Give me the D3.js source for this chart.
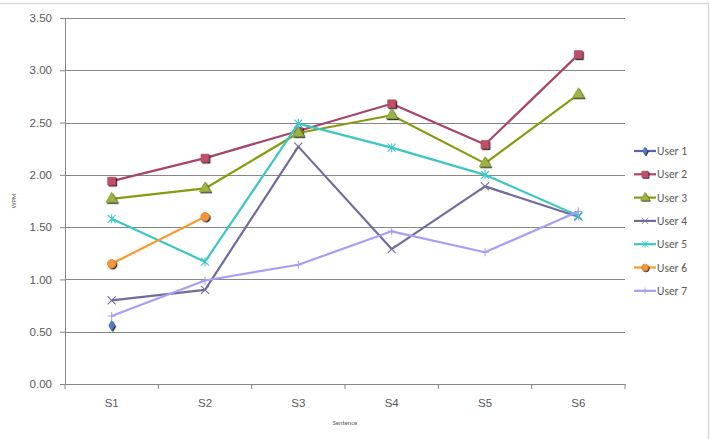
<!DOCTYPE html>
<html>
<head>
<meta charset="utf-8">
<script src="https://cdn.jsdelivr.net/npm/d3@7"></script>
<style>
  body { margin: 0; background: #fff; }
  svg { font-family: Calibri, Carlito, "Open Sans", "Noto Sans", sans-serif; }
</style>
</head>
<body>
<script>
// chart data
var sentences = ["S1", "S2", "S3", "S4", "S5", "S6"];
var users = ["User 1", "User 2", "User 3", "User 4", "User 5", "User 6", "User 7"];
var user1 = [0.56, null, null, null, null, null];
var user2 = [1.94, 2.16, 2.42, 2.68, 2.29, 3.15];
var user3 = [1.77, 1.87, 2.40, 2.57, 2.11, 2.77];
var user4 = [0.80, 0.90, 2.27, 1.29, 1.89, 1.60];
var user5 = [1.58, 1.17, 2.49, 2.26, 2.00, 1.61];
var user6 = [1.15, 1.60, null, null, null, null];
var user7 = [0.65, 0.99, 1.14, 1.46, 1.26, 1.65];
var yTicks = [0, 0.5, 1, 1.5, 2, 2.5, 3, 3.5];

var seriesValues = [user1, user2, user3, user4, user5, user6, user7];
var lineColors = ["#5d62a8", "#a8446c", "#8a9a10", "#726c9c", "#3cc6c8", "#f79a30", "#a79ff6"];
var markerFills = ["#4f7fc4", "#c2506a", "#9bb540", "#7a7499", "#40c8ca", "#f7953a", "#a79ff6"];
var markerShapes = ["diamond", "square", "triangle", "x", "star", "circle", "plus"];

var width = 710, height = 439;
var margin = {left: 65, top: 18, right: 85, bottom: 55};
var plotW = width - margin.left - margin.right;
var plotH = height - margin.top - margin.bottom;

var svg = d3.select("body").append("svg")
    .attr("width", width)
    .attr("height", height);

// outer frame of the chart
svg.append("rect")
    .attr("x", -5).attr("y", 3.5)
    .attr("width", 713.5).attr("height", 450)
    .attr("fill", "none")
    .attr("stroke", "#d9d9d9")
    .attr("stroke-width", 1.5);

var defs = svg.append("defs");
defs.append("filter").attr("id", "shadow")
    .attr("x", "-50%").attr("y", "-50%").attr("width", "200%").attr("height", "200%")
    .append("feDropShadow")
    .attr("dx", 1.2).attr("dy", 1.2).attr("stdDeviation", 0.6)
    .attr("flood-color", "#000").attr("flood-opacity", 0.85);

var g = svg.append("g").attr("transform", "translate(" + margin.left + "," + margin.top + ")");

var x = d3.scaleBand().domain(sentences).range([0, plotW]);
var y = d3.scaleLinear().domain([0, 3.5]).range([plotH, 0]);

// gridlines
g.append("g")
    .selectAll("line")
    .data(yTicks.slice(1))
    .enter().append("line")
    .attr("x1", 0).attr("x2", plotW)
    .attr("y1", function (d) { return Math.round(y(d)) + 0.5; })
    .attr("y2", function (d) { return Math.round(y(d)) + 0.5; })
    .attr("stroke", "#878787")
    .attr("stroke-width", 1);

// y axis
var yAxis = g.append("g")
    .call(d3.axisLeft(y).tickValues(yTicks).tickFormat(d3.format(".2f")).tickSize(5).tickSizeOuter(0));
yAxis.select(".domain").attr("stroke", "#878787");
yAxis.selectAll(".tick line").attr("stroke", "#878787");
yAxis.selectAll(".tick text")
    .attr("x", -13)
    .attr("fill", "#595959")
    .style("font-size", "11.5px");

// x axis
var xAxis = g.append("g")
    .attr("transform", "translate(0," + plotH + ")")
    .call(d3.axisBottom(x).tickSize(0));
xAxis.select(".domain").attr("stroke", "#878787");
xAxis.selectAll(".tick text")
    .attr("dy", "1.75em")
    .attr("fill", "#595959")
    .style("font-size", "11.5px");
// ticks between categories
xAxis.selectAll(".between")
    .data(d3.range(sentences.length + 1))
    .enter().append("line")
    .attr("class", "between")
    .attr("x1", function (i) { return i * x.bandwidth(); })
    .attr("x2", function (i) { return i * x.bandwidth(); })
    .attr("y1", 0).attr("y2", 5)
    .attr("stroke", "#878787");

// axis titles
svg.append("text")
    .attr("transform", "translate(16," + (margin.top + y(1.75)) + ") rotate(-90)")
    .attr("text-anchor", "middle")
    .attr("fill", "#595959")
    .style("font-size", "6.5px")
    .text("WPM");
svg.append("text")
    .attr("x", margin.left + plotW / 2)
    .attr("y", 425)
    .attr("text-anchor", "middle")
    .attr("fill", "#595959")
    .style("font-size", "6.5px")
    .text("Sentence");

function markerPath(shape) {
    if (shape == "diamond") return d3.symbol().type(d3.symbolDiamond).size(28)();
    if (shape == "square") return d3.symbol().type(d3.symbolSquare).size(60)();
    if (shape == "triangle") return d3.symbol().type(d3.symbolTriangle).size(55)();
    if (shape == "circle") return d3.symbol().type(d3.symbolCircle).size(55)();
    if (shape == "x") return "M-4,-4L4,4M-4,4L4,-4";
    if (shape == "star") return "M-4,-4L4,4M-4,4L4,-4M0,-4.5L0,4.5";
    if (shape == "plus") return "M-4,0L4,0M0,-4L0,4";
    return "";
}

function drawMarker(sel, i) {
    var shape = markerShapes[i];
    var open = (shape == "x" || shape == "star" || shape == "plus");
    sel.append("path")
        .attr("d", markerPath(shape))
        .attr("fill", open ? "none" : markerFills[i])
        .attr("stroke", open ? lineColors[i] : d3.color(markerFills[i]).darker(0.4))
        .attr("stroke-width", open ? 1.1 : 0.8)
        .attr("filter", open ? null : "url(#shadow)");
}

var line = d3.line()
    .defined(function (d) { return d != null; })
    .x(function (d, i) { return x(sentences[i]) + x.bandwidth() / 2; })
    .y(function (d) { return y(d); });

seriesValues.forEach(function (vals, i) {
    var sg = g.append("g").attr("class", "series");
    sg.append("path")
        .datum(vals)
        .attr("d", line)
        .attr("fill", "none")
        .attr("stroke", lineColors[i])
        .attr("stroke-width", 2.2)
        .attr("stroke-linejoin", "round");
    vals.forEach(function (v, j) {
        if (v == null) return;
        var m = sg.append("g")
            .attr("transform", "translate(" + (x(sentences[j]) + x.bandwidth() / 2) + "," + y(v) + ")");
        drawMarker(m, i);
    });
});

// legend
var legend = svg.append("g").attr("transform", "translate(634,151)");
users.forEach(function (u, i) {
    var row = legend.append("g").attr("transform", "translate(0," + (i * 23.3) + ")");
    row.append("line")
        .attr("x1", 0).attr("x2", 22)
        .attr("stroke", lineColors[i])
        .attr("stroke-width", 2.2);
    var m = row.append("g").attr("transform", "translate(11,0) scale(0.8)");
    drawMarker(m, i);
    row.append("text")
        .attr("x", 23)
        .attr("y", 4)
        .attr("fill", "#595959")
        .style("font-size", "11.5px")
        .text(u);
});
</script>
</body>
</html>
